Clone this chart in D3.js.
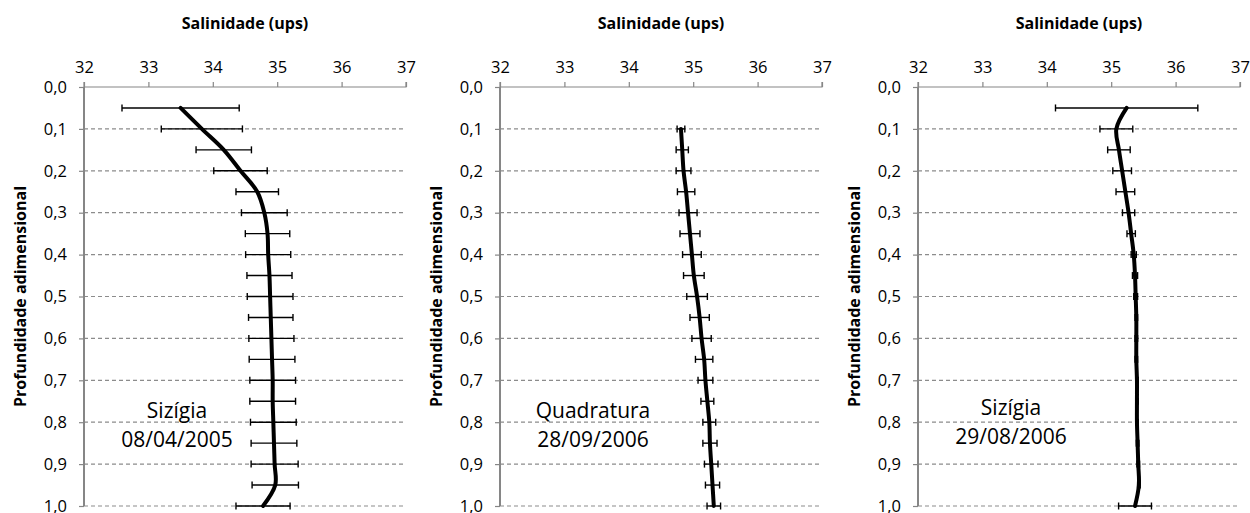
<!DOCTYPE html>
<html>
<head>
<meta charset="utf-8">
<script src="https://cdn.jsdelivr.net/npm/d3@7"></script>
<style>
  html, body { margin: 0; padding: 0; background: #fff; }
  svg { display: block; font-family: "Open Sans", "Noto Sans", sans-serif; }
</style>
</head>
<body>
<svg id="chart" width="1250" height="513"></svg>
<script>
// ---- Data ----
const xTicks = [32, 33, 34, 35, 36, 37];
const yTicks = [0.0, 0.1, 0.2, 0.3, 0.4, 0.5, 0.6, 0.7, 0.8, 0.9, 1.0];

const depths1 = [0.05, 0.10, 0.15, 0.20, 0.25, 0.30, 0.35, 0.40, 0.45, 0.50, 0.55, 0.60, 0.65, 0.70, 0.75, 0.80, 0.85, 0.90, 0.95, 1.00];
const sal1Mean = [33.50, 33.83, 34.17, 34.43, 34.69, 34.80, 34.85, 34.86, 34.88, 34.89, 34.90, 34.91, 34.92, 34.93, 34.93, 34.94, 34.95, 34.96, 34.97, 34.78];
const sal1Err  = [0.91, 0.63, 0.43, 0.415, 0.33, 0.355, 0.345, 0.35, 0.35, 0.355, 0.345, 0.35, 0.355, 0.355, 0.355, 0.355, 0.355, 0.365, 0.36, 0.42];

const depths2 = [0.10, 0.15, 0.20, 0.25, 0.30, 0.35, 0.40, 0.45, 0.50, 0.55, 0.60, 0.65, 0.70, 0.75, 0.80, 0.85, 0.90, 0.95, 1.00];
const sal2Mean = [34.81, 34.83, 34.85, 34.89, 34.92, 34.95, 34.98, 35.01, 35.06, 35.10, 35.13, 35.17, 35.19, 35.22, 35.25, 35.26, 35.28, 35.30, 35.32];
const sal2Err  = [0.06, 0.095, 0.115, 0.135, 0.14, 0.155, 0.145, 0.16, 0.16, 0.15, 0.15, 0.135, 0.115, 0.10, 0.10, 0.11, 0.105, 0.11, 0.105];

const depths3 = [0.05, 0.10, 0.15, 0.20, 0.25, 0.30, 0.35, 0.40, 0.45, 0.50, 0.55, 0.60, 0.65, 0.70, 0.75, 0.80, 0.85, 0.90, 0.95, 1.00];
const sal3Mean = [35.24, 35.08, 35.12, 35.17, 35.22, 35.27, 35.31, 35.35, 35.37, 35.38, 35.39, 35.39, 35.39, 35.40, 35.40, 35.40, 35.41, 35.42, 35.43, 35.37];
const sal3Err  = [1.105, 0.255, 0.175, 0.145, 0.145, 0.095, 0.065, 0.04, 0.04, 0.03, 0.02, 0.02, 0.02, 0.02, 0.02, 0.02, 0.02, 0.02, 0.02, 0.255];

const panelLabels = [["Sizígia", "08/04/2005"], ["Quadratura", "28/09/2006"], ["Sizígia", "29/08/2006"]];
const xTitle = "Salinidade (ups)";
const yTitle = "Profundidade adimensional";

// ---- Layout ----
const panels = [
  { left: 84,  depths: depths1, mean: sal1Mean, err: sal1Err, label: panelLabels[0], labelDy: 0 },
  { left: 500, depths: depths2, mean: sal2Mean, err: sal2Err, label: panelLabels[1], labelDy: 0 },
  { left: 918, depths: depths3, mean: sal3Mean, err: sal3Err, label: panelLabels[2], labelDy: -3 }
];
const plotW = 322, plotTop = 87, plotBottom = 506;
const axisColor = "#868686", gridColor = "#8c8c8c";

const svg = d3.select("#chart");

panels.forEach(p => {
  const x = d3.scaleLinear().domain([32, 37]).range([p.left, p.left + plotW]);
  const y = d3.scaleLinear().domain([0, 1]).range([plotTop, plotBottom]);
  const g = svg.append("g");

  // gridlines (dashed)
  g.selectAll("line.grid").data(yTicks.slice(1)).join("line")
    .attr("x1", p.left).attr("x2", p.left + plotW)
    .attr("y1", d => y(d)).attr("y2", d => y(d))
    .attr("stroke", gridColor).attr("stroke-width", 1.2)
    .attr("stroke-dasharray", "4,3");

  // top axis
  const xAxis = d3.axisTop(x).tickValues(xTicks).tickSize(5).tickPadding(9)
    .tickFormat(d3.format("d"));
  const gx = g.append("g").attr("transform", `translate(0,${plotTop})`).call(xAxis);
  gx.select(".domain").attr("stroke", axisColor).attr("stroke-width", 1.2)
    .attr("d", `M${p.left},-5V0H${p.left + plotW}V-5`);
  gx.selectAll(".tick line").attr("stroke", axisColor).attr("stroke-width", 1.2);
  gx.selectAll(".tick text").attr("fill", "#000").style("font-size", "16.5px")
    .style("font-family", "'Open Sans', sans-serif");

  // left axis
  const yAxis = d3.axisLeft(y).tickValues(yTicks).tickSize(5).tickPadding(12)
    .tickFormat(d => d3.format(".1f")(d).replace(".", ","));
  const gy = g.append("g").attr("transform", `translate(${p.left},0)`).call(yAxis);
  gy.select(".domain").attr("stroke", axisColor).attr("stroke-width", 2)
    .attr("d", `M0,${plotTop}V${plotBottom}`);
  gy.selectAll(".tick line").attr("stroke", axisColor).attr("stroke-width", 1.2);
  gy.selectAll(".tick text").attr("fill", "#000").style("font-size", "16.5px")
    .style("font-family", "'Open Sans', sans-serif");

  // axis titles
  g.append("text").attr("x", p.left + plotW / 2).attr("y", 29)
    .attr("text-anchor", "middle").style("font-weight", "bold").style("font-size", "16px")
    .text(xTitle);
  g.append("text")
    .attr("transform", `translate(${p.left - 58},${(plotTop + plotBottom) / 2}) rotate(-90)`)
    .attr("text-anchor", "middle").style("font-weight", "bold").style("font-size", "16px")
    .text(yTitle);

  const pts = p.depths.map((d, i) => ({ d, m: p.mean[i], e: p.err[i] }));

  // error bars
  const eb = g.append("g").attr("stroke", "#000").attr("stroke-width", 1.4);
  eb.selectAll("line.bar").data(pts).join("line")
    .attr("x1", d => x(d.m - d.e)).attr("x2", d => x(d.m + d.e))
    .attr("y1", d => y(d.d)).attr("y2", d => y(d.d));
  eb.selectAll("line.capl").data(pts).join("line")
    .attr("x1", d => x(d.m - d.e)).attr("x2", d => x(d.m - d.e))
    .attr("y1", d => y(d.d) - 3.5).attr("y2", d => y(d.d) + 3.5);
  eb.selectAll("line.capr").data(pts).join("line")
    .attr("x1", d => x(d.m + d.e)).attr("x2", d => x(d.m + d.e))
    .attr("y1", d => y(d.d) - 3.5).attr("y2", d => y(d.d) + 3.5);

  // mean profile line (smoothed)
  const line = d3.line().x(d => x(d.m)).y(d => y(d.d)).curve(d3.curveCatmullRom.alpha(0.5));
  g.append("path").datum(pts).attr("d", line)
    .attr("fill", "none").attr("stroke", "#000").attr("stroke-width", 4)
    .attr("stroke-linejoin", "round").attr("stroke-linecap", "round");

  // annotation
  const t = g.append("text").attr("text-anchor", "middle").style("font-size", "21px");
  t.append("tspan").attr("x", p.left + 93).attr("y", 418 + p.labelDy).text(p.label[0]);
  t.append("tspan").attr("x", p.left + 93).attr("y", 447 + p.labelDy).text(p.label[1]);
});
</script>
</body>
</html>
